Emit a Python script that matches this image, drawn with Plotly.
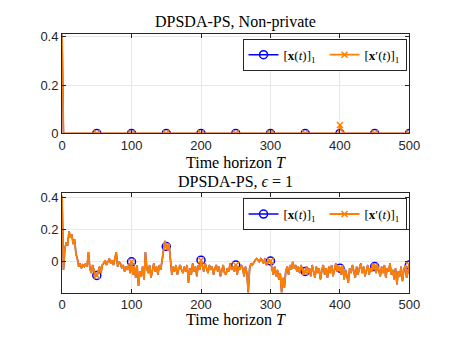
import plotly.graph_objects as go

# ---- data ----
# top panel (non-private): sparse points, both iterates collapse to 0 almost at once
t_np = [0, 1, 2, 50, 100, 150, 200, 250, 300, 350, 398, 400, 402, 404, 406, 408, 410, 412, 450, 500]
x_np = [0.41, 0.17, 0.0, 0.0, 0.0, 0.0, 0.0, 0.0, 0.0, 0.0, 0.0, 0.0, 0.0, 0.0, 0.0, 0.0, 0.0, 0.0, 0.0, 0.0]
xp_np = [0.41, 0.0, 0.0, 0.0, 0.0, 0.0, 0.0, 0.0, 0.0, 0.0, 0.0, 0.035, 0.015, 0.007, 0.003, 0.001, 0.0, 0.0, 0.0, 0.0]

# bottom panel (eps = 1), sampled every 2 iterations
t_eps = list(range(0, 501, 2))
x_eps = [
    0.41, -0.05, 0.08, 0.12, 0.10, 0.19, 0.15, 0.17, 0.11, 0.14,
    0.05, 0.02, -0.03, -0.01, -0.04, -0.02, -0.03, -0.01, -0.03, 0.06,
    -0.04, -0.07, -0.02, -0.06, -0.09, -0.085, -0.06, -0.03, -0.07, -0.02,
    -0.01, 0.01, -0.02, 0.00, 0.02, -0.01, 0.01, -0.02, 0.03, 0.06,
    -0.03, 0.00, -0.01, -0.04, -0.02, -0.06, -0.03, -0.05, -0.02, -0.07,
    0.00, -0.08, -0.03, -0.10, -0.02, -0.15, -0.06, -0.09, -0.03, -0.11,
    0.06, -0.04, -0.07, -0.02, -0.10, -0.05, -0.01, -0.06, -0.03, -0.08,
    -0.02, -0.05, 0.01, 0.06, 0.13, 0.095, 0.07, 0.11, 0.03, -0.08,
    -0.03, -0.06, -0.02, -0.08, -0.04, -0.02, -0.05, -0.07, -0.03, -0.06,
    -0.02, -0.13, -0.04, -0.08, -0.01, -0.06, -0.03, -0.09, -0.02, -0.05,
    0.01, -0.03, -0.06, -0.01, -0.04, -0.07, -0.02, -0.05, -0.03, -0.08,
    -0.04, -0.02, -0.06, -0.03, -0.09, -0.05, -0.02, -0.07, -0.08, -0.04,
    -0.06, -0.01, -0.05, -0.03, -0.06, -0.02, -0.08, -0.03, -0.05, -0.02,
    -0.04, -0.09, -0.03, -0.07, -0.19, -0.04, -0.01, -0.02, 0.00, 0.01,
    0.02, 0.01, 0.00, 0.02, 0.01, -0.01, 0.02, -0.02, 0.00, 0.01,
    0.005, -0.04, -0.08, -0.03, -0.09, -0.05, -0.11, -0.07, -0.19, -0.10,
    -0.16, -0.06, -0.03, -0.08, -0.02, -0.05, 0.00, -0.04, -0.02, -0.06,
    -0.03, -0.07, -0.02, -0.05, -0.08, -0.06, -0.03, -0.07, -0.04, -0.09,
    -0.02, -0.06, -0.10, -0.03, -0.07, -0.04, -0.11, -0.05, -0.02, -0.08,
    -0.04, -0.10, -0.03, -0.07, -0.02, -0.09, -0.05, -0.01, -0.06, -0.03,
    -0.04, -0.08, -0.02, -0.11, -0.05, -0.09, -0.13, -0.04, -0.07, -0.02,
    -0.06, -0.10, -0.03, -0.08, -0.04, -0.01, -0.07, -0.03, -0.09, -0.05,
    -0.02, -0.08, -0.04, -0.06, -0.01, -0.03, -0.07, -0.02, -0.05, -0.09,
    -0.03, -0.07, -0.02, -0.10, -0.04, -0.06, -0.01, -0.08, -0.05, -0.11,
    -0.04, -0.14, -0.06, -0.09, -0.03, -0.12, -0.05, -0.02, -0.10, -0.06,
    -0.02,
]
xp_eps = x_eps

marker_every = 50

BLUE = '#0000FF'
ORANGE = '#FF8000'
SERIF = 'Liberation Serif'
SANS = 'Liberation Sans'
AX = '#262626'


def mcolors(ts, c):
    # leading None point carries the legend colour; markers only every 50 steps
    return [c] + [c if (t % marker_every == 0 and t > 0) else 'rgba(0,0,0,0)' for t in ts]


def add_pair(fig, ts, xa, xb, xaxis, yaxis, legend):
    fig.add_trace(go.Scatter(
        x=[None] + list(ts), y=[None] + list(xa), mode='lines+markers',
        name='[<b>x</b>(<i>t</i>)]<sub>1</sub>',
        line=dict(color=BLUE, width=1.5),
        marker=dict(symbol='circle-open', size=8, color=mcolors(ts, BLUE), line=dict(width=1.5)),
        xaxis=xaxis, yaxis=yaxis, legend=legend))
    fig.add_trace(go.Scatter(
        x=[None] + list(ts), y=[None] + list(xb), mode='lines+markers',
        name='[<b>x</b>′(<i>t</i>)]<sub>1</sub>',
        line=dict(color=ORANGE, width=1.8),
        marker=dict(symbol='x-thin-open', size=6, color=mcolors(ts, ORANGE), line=dict(width=1.5)),
        xaxis=xaxis, yaxis=yaxis, legend=legend))


fig = go.Figure()
add_pair(fig, t_np, x_np, xp_np, 'x', 'y', 'legend')
add_pair(fig, t_eps, x_eps, xp_eps, 'x2', 'y2', 'legend2')

W, H = 463, 348
xdom = [60 / W, 419 / W]
ydom1 = [1 - 134 / H, 1 - 31 / H]
ydom2 = [1 - 299 / H, 1 - 196 / H]

axis_common = dict(showline=True, mirror='ticks', linecolor=AX, linewidth=1,
                   ticks='inside', ticklen=4, tickcolor=AX,
                   showgrid=True, gridcolor='#e8e8e8', gridwidth=1,
                   zeroline=False, tickfont=dict(family=SANS, size=13, color=AX))

leg_common = dict(orientation='h', xanchor='right', yanchor='top',
                  bgcolor='white', bordercolor=AX, borderwidth=1,
                  font=dict(family=SERIF, size=13, color='black'),
                  tracegroupgap=0, itemwidth=30, entrywidth=36)

fig.update_layout(
    width=W, height=H, margin=dict(l=0, r=0, t=0, b=0),
    paper_bgcolor='white', plot_bgcolor='white',
    xaxis=dict(domain=xdom, anchor='y', range=[0, 500], tickvals=[0, 100, 200, 300, 400, 500], **axis_common),
    yaxis=dict(domain=ydom1, anchor='x', range=[0, 0.412], tickvals=[0, 0.2, 0.4], **axis_common),
    xaxis2=dict(domain=xdom, anchor='y2', range=[0, 500], tickvals=[0, 100, 200, 300, 400, 500], **axis_common),
    yaxis2=dict(domain=ydom2, anchor='x2', range=[-0.192, 0.426], tickvals=[0, 0.2, 0.4], **axis_common),
    legend=dict(x=416 / W, y=1 - 36 / H, **leg_common),
    legend2=dict(x=416 / W, y=1 - 201 / H, **leg_common),
    showlegend=True,
)

ann_font = dict(family=SERIF, size=16, color='black')
for txt, ypx in [('DPSDA-PS, Non-private', 19), ('Time horizon <i>T</i>', 164),
                 ('DPSDA-PS, <i>ϵ</i> = 1', 184), ('Time horizon <i>T</i>', 327)]:
    fig.add_annotation(text=txt, xref='paper', yref='paper', x=sum(xdom) / 2, y=1 - ypx / H,
                       xanchor='center', yanchor='middle', showarrow=False, font=ann_font)

# the page's default body margin would push the figure 8px right and down
fig.write_html("out.html", config={'displayModeBar': False},
               post_script="document.body.style.margin='0';")
